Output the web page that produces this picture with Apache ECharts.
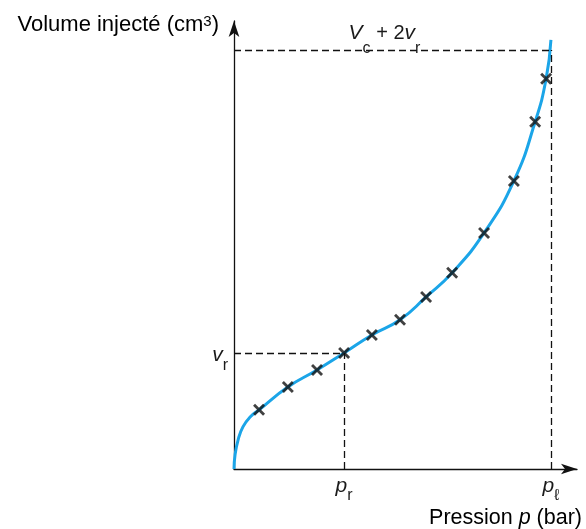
<!DOCTYPE html>
<html><head><meta charset="utf-8">
<script src="https://cdn.jsdelivr.net/npm/echarts@6/dist/echarts.min.js"></script>
<style>html,body{margin:0;padding:0;background:#fff}#c{width:586px;height:529px}</style>
</head><body><div id="c"></div>
<script>
// Measured points (crosses) : pressure (arbitrary units), injected volume (arbitrary units)
const crossP = [7.3, 15.7, 24.2, 32.1, 40.2, 48.4, 56.0, 63.6, 72.9, 81.6, 87.8, 91.0];
const crossV = [13.2, 18.3, 22.1, 25.9, 29.9, 33.3, 38.4, 43.8, 52.7, 64.3, 77.5, 87.1];
// Fitted curve
const curveP = [0, 0.3, 1.2, 2.6, 4.7, 7.3, 15.7, 24.2, 32.1, 40.2, 48.4, 56.0, 63.6, 72.9, 81.6, 87.8, 91.0, 92.4];
const curveV = [0, 3.1, 6.5, 9.4, 11.6, 13.2, 18.3, 22.1, 25.9, 29.9, 33.3, 38.4, 43.8, 52.7, 64.3, 77.5, 87.1, 95.8];
// Reference values
const pR = 32.1, pL = 92.4, vR = 25.9, vMax = 93.5;
const xTickValues = [pR, pL];
const xTickLabels = ['{m|p}{sx|r}', '{m|p}{sx|ℓ}'];
const yTickValues = [vR];
const yTickLabels = ['{m|v}{sy|r}'];
const topLabel = '{m|V}{st|c}{t| + 2}{m|v}{st|r}';
const yName = '{ny|Volume injecté (cm}{sup|3}{ny|)}';
const xName = '{n|Pression }{mn|p}{n| (bar)}';

const FONT = '"Liberation Sans", Arial, sans-serif';
const C = '#1a1a1a';
const rich = {
  t: {fontFamily: FONT, fontSize: 20, color: C, verticalAlign: 'top'},
  n: {fontFamily: FONT, fontSize: 21.5, color: C, verticalAlign: 'top'},
  ny: {fontFamily: FONT, fontSize: 22, color: C, verticalAlign: 'top'},
  mn: {fontFamily: FONT, fontSize: 21.5, fontStyle: 'italic', color: C, verticalAlign: 'top'},
  m: {fontFamily: FONT, fontSize: 21, fontStyle: 'italic', color: C, verticalAlign: 'top'},
  sx: {fontFamily: FONT, fontSize: 16, color: C, verticalAlign: 'bottom', lineHeight: 28},
  sy: {fontFamily: FONT, fontSize: 16, color: C, verticalAlign: 'bottom', lineHeight: 29},
  st: {fontFamily: FONT, fontSize: 16, color: C, verticalAlign: 'bottom', lineHeight: 33},
  sup: {fontFamily: FONT, fontSize: 15, color: C, verticalAlign: 'top'}
};

const curve = curveP.map((p, i) => [p, curveV[i]]);
const crosses = crossP.map((p, i) => [p, crossV[i]]);
const dash = {color: '#111', width: 1.3, type: [7, 4]};

const chart = echarts.init(document.getElementById('c'));
chart.setOption({
  animation: false,
  backgroundColor: '#fff',
  grid: {left: 234, right: 9, top: 21, bottom: 60},
  xAxis: {
    type: 'value', min: 0, max: 100,
    axisLine: {show: true, symbol: ['none', 'arrow'], symbolSize: [8, 16], lineStyle: {color: '#111', width: 1.3}},
    axisTick: {show: false},
    splitLine: {show: false},
    axisLabel: {
      customValues: xTickValues, margin: 7,
      formatter: v => xTickLabels[xTickValues.indexOf(v)], rich: rich
    }
  },
  yAxis: {
    type: 'value', min: 0, max: 100,
    axisLine: {show: true, symbol: ['none', 'arrow'], symbolSize: [8, 16], lineStyle: {color: '#111', width: 1.3}},
    axisTick: {show: false},
    splitLine: {show: false},
    axisLabel: {
      customValues: yTickValues, margin: 6, padding: [12, 0, 0, 0],
      formatter: v => yTickLabels[yTickValues.indexOf(v)], rich: rich
    }
  },
  graphic: [
    {type: 'text', right: 586 - 219, top: 14, style: {text: yName, rich: rich}},
    {type: 'text', right: 4, top: 507, style: {text: xName, rich: rich}}
  ],
  series: [
    {
      type: 'line', data: curve, smooth: 0.5, showSymbol: false,
      lineStyle: {color: '#1ba5e8', width: 3}, z: 2,
      markLine: {
        silent: true, symbol: 'none', animation: false,
        lineStyle: dash,
        label: {show: false},
        data: [
          [{coord: [0, vR]}, {coord: [pR, vR]}],
          [{coord: [pR, 0]}, {coord: [pR, vR]}],
          [{coord: [0, vMax], label: {show: true, position: 'middle', distance: 0, padding: [0, 16, -6, 0], formatter: topLabel, rich: rich}},
           {coord: [pL, vMax]}],
          [{coord: [pL, 0]}, {coord: [pL, vMax]}]
        ]
      }
    },
    {
      type: 'scatter', data: crosses, z: 3,
      symbol: 'path://M0,2 L2,0 L6,4 L10,0 L12,2 L8,6 L12,10 L10,12 L6,8 L2,12 L0,10 L4,6 Z',
      symbolSize: 12,
      itemStyle: {color: '#111'}
    }
  ]
});
</script>
</body></html>
